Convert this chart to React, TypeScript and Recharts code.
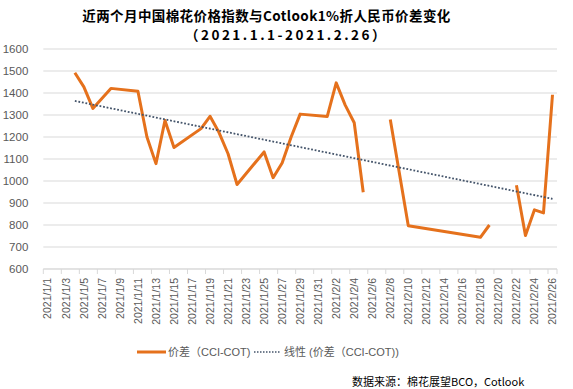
import React from 'react';
import { LineChart, Line, XAxis, YAxis, CartesianGrid } from 'recharts';

const allDates = [
  '2021/1/1', '2021/1/2', '2021/1/3', '2021/1/4', '2021/1/5', '2021/1/6', '2021/1/7', '2021/1/8', '2021/1/9', '2021/1/10',
  '2021/1/11', '2021/1/12', '2021/1/13', '2021/1/14', '2021/1/15', '2021/1/16', '2021/1/17', '2021/1/18', '2021/1/19', '2021/1/20',
  '2021/1/21', '2021/1/22', '2021/1/23', '2021/1/24', '2021/1/25', '2021/1/26', '2021/1/27', '2021/1/28', '2021/1/29', '2021/1/30',
  '2021/1/31', '2021/2/1', '2021/2/2', '2021/2/3', '2021/2/4', '2021/2/5', '2021/2/6', '2021/2/7', '2021/2/8', '2021/2/9',
  '2021/2/10', '2021/2/11', '2021/2/12', '2021/2/13', '2021/2/14', '2021/2/15', '2021/2/16', '2021/2/17', '2021/2/18', '2021/2/19',
  '2021/2/20', '2021/2/21', '2021/2/22', '2021/2/23', '2021/2/24', '2021/2/25', '2021/2/26',
];

const pointDates = [
  '2021/1/4', '2021/1/5', '2021/1/6', '2021/1/7', '2021/1/8', '2021/1/11', '2021/1/12', '2021/1/13', '2021/1/14', '2021/1/15',
  '2021/1/18', '2021/1/19', '2021/1/20', '2021/1/21', '2021/1/22', '2021/1/25', '2021/1/26', '2021/1/27', '2021/1/28', '2021/1/29',
  '2021/2/1', '2021/2/2', '2021/2/3', '2021/2/4', '2021/2/5', '2021/2/6', '2021/2/8', '2021/2/10', '2021/2/18', '2021/2/19',
  '2021/2/20', '2021/2/22', '2021/2/23', '2021/2/24', '2021/2/25', '2021/2/26',
];

const spreadValues: (number | null)[] = [
  1492, 1428, 1330, 1375, 1421, 1408, 1200, 1079, 1275, 1152,
  1238, 1294, 1220, 1124, 984, 1132, 1015, 1082, 1200, 1304,
  1293, 1446, 1345, 1265, 949, null, 1280, 797, 744, 800,
  null, 981, 752, 869, 855, 1392,
];

const trendDates = ['2021/1/4', '2021/2/26'];
const trendValues = [1364, 919];

const yTicks = [600, 700, 800, 900, 1000, 1100, 1200, 1300, 1400, 1500, 1600];
const xLabelIdx = allDates.map((_, i) => i).filter((i) => i % 2 === 0);

const seriesName = '价差（CCI-COT)';
const trendName = '线性 (价差（CCI-COT))';
const titleText = '近两个月中国棉花价格指数与Cotlook1%折人民币价差变化';
const subtitleText = '（2021.1.1-2021.2.26）';
const sourceText = '数据来源：棉花展望BCO，Cotlook';

const CHART_W = 573;
const CHART_H = 389;
const M = { top: 49, right: 16, left: 0, bottom: 60 };
const Y_W = 43.3;
const BAND = (CHART_W - M.left - M.right - Y_W) / allDates.length;

const spreadData = pointDates.map((d, i) => ({ x: allDates.indexOf(d), v: spreadValues[i] }));
const trendData = trendDates.map((d, i) => ({ x: allDates.indexOf(d), v: trendValues[i] }));

const ORANGE = '#E5711C';
const NAVY = '#44546A';
const GRID = '#D9D9D9';
const TEXT = '#595959';

const XTick = (props: any) => {
  const { x, y, payload } = props;
  const idx = payload.value as number;
  const h = BAND / 2;
  const isLast = idx === allDates.length - 1;
  return (
    <g>
      <line x1={x - h} x2={x - h} y1={y} y2={y + 5} stroke={GRID} strokeWidth={1} />
      {isLast && <line x1={x + h} x2={x + h} y1={y} y2={y + 5} stroke={GRID} strokeWidth={1} />}
      <text
        transform={`translate(${x},${y + 9}) rotate(-90)`}
        textAnchor="end"
        dy="0.35em"
        fill={TEXT}
        fontSize={10.5}
        fontFamily="'Liberation Sans', Arial, sans-serif"
      >
        {allDates[idx]}
      </text>
    </g>
  );
};

export default function App() {
  return (
    <div style={{ position: 'absolute', left: 0, top: 0, width: CHART_W, height: CHART_H, background: '#fff', fontFamily: "'Noto Sans CJK SC', sans-serif" }}>
      <div style={{ position: 'absolute', left: 0, width: 533, top: 8, textAlign: 'center', fontSize: 13.5, fontWeight: 700, color: '#000', lineHeight: '14px', letterSpacing: 0.4, whiteSpace: 'nowrap' }}>
        {titleText}
      </div>
      <div style={{ position: 'absolute', left: 0, width: CHART_W, top: 27, textAlign: 'center', fontSize: 13.5, fontWeight: 700, color: '#000', lineHeight: '14px', letterSpacing: 2.5, whiteSpace: 'nowrap' }}>
        {subtitleText}
      </div>
      <LineChart width={CHART_W} height={CHART_H} margin={M} style={{ position: 'absolute', left: 0, top: 0 }}>
        <CartesianGrid horizontal vertical={false} stroke={GRID} />
        <XAxis
          dataKey="x"
          type="number"
          domain={[-0.5, allDates.length - 0.5]}
          ticks={xLabelIdx}
          interval={0}
          tick={<XTick />}
          tickLine={false}
          tickSize={0}
          tickMargin={0}
          axisLine={{ stroke: GRID }}
          height={60}
          allowDataOverflow
        />
        <YAxis
          type="number"
          domain={[600, 1600]}
          ticks={yTicks}
          interval={0}
          width={Y_W}
          tickLine={false}
          axisLine={false}
          tickSize={0}
          tickMargin={15}
          tick={{ fill: TEXT, fontSize: 11.5, fontFamily: "'Liberation Sans', Arial, sans-serif" }}
        />
        <Line
          data={spreadData}
          dataKey="v"
          type="linear"
          stroke={ORANGE}
          strokeWidth={3}
          dot={false}
          connectNulls={false}
          isAnimationActive={false}
          strokeLinejoin="round"
        />
        <Line
          data={trendData}
          dataKey="v"
          type="linear"
          stroke={NAVY}
          strokeWidth={1.8}
          strokeDasharray="1.8 1.8"
          dot={false}
          isAnimationActive={false}
        />
      </LineChart>
      <div style={{ position: 'absolute', top: 344, left: 0, width: CHART_W, height: 16, fontSize: 11, color: TEXT, fontFamily: "'Liberation Sans', 'Noto Sans CJK SC', sans-serif" }}>
        <svg style={{ position: 'absolute', left: 137, top: 0 }} width={30} height={16}>
          <line x1={0} x2={29} y1={8} y2={8} stroke={ORANGE} strokeWidth={3} />
        </svg>
        <span style={{ position: 'absolute', left: 168, top: 0, lineHeight: '16px', whiteSpace: 'nowrap' }}>{seriesName}</span>
        <svg style={{ position: 'absolute', left: 254, top: 0 }} width={28} height={16}>
          <line x1={0} x2={27} y1={8} y2={8} stroke={NAVY} strokeWidth={1.5} strokeDasharray="1.5 1.5" />
        </svg>
        <span style={{ position: 'absolute', left: 284, top: 0, lineHeight: '16px', whiteSpace: 'nowrap' }}>{trendName}</span>
      </div>
      <div style={{ position: 'absolute', top: 373, left: 352, fontSize: 11, color: '#000', lineHeight: '16px', whiteSpace: 'nowrap' }}>
        {sourceText}
      </div>
    </div>
  );
}
